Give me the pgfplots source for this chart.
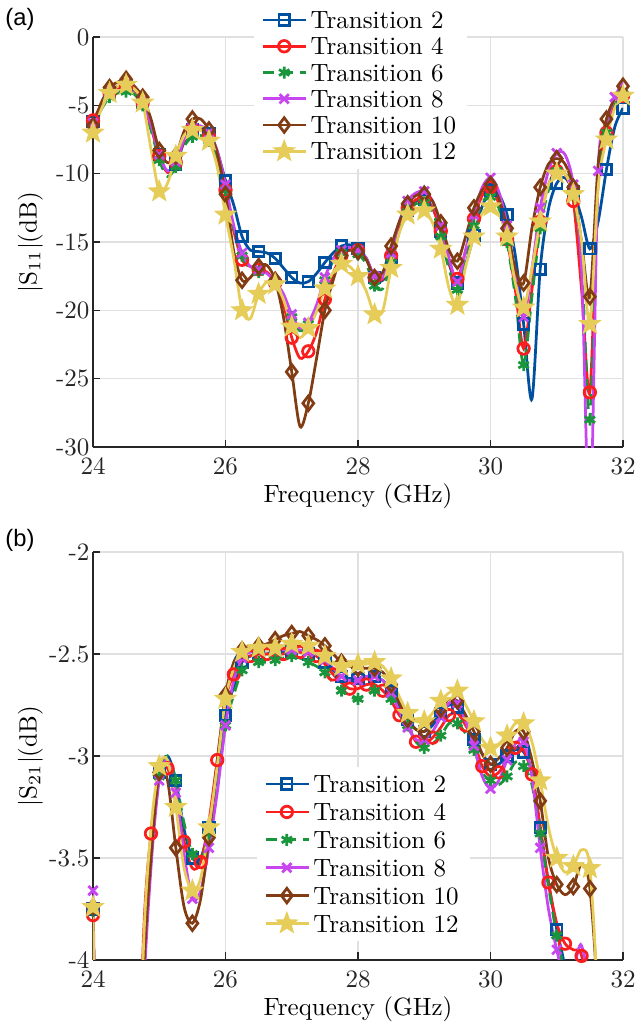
\documentclass[border=0pt]{standalone}
\usepackage{fontspec}
\newfontfamily\panelfont{Liberation Sans}
\usepackage{pgfplots}
\pgfplotsset{compat=1.18}
\usepackage{pgfplotstable}
\usetikzlibrary{plotmarks}

\definecolor{cTa}{RGB}{0,80,160}
\definecolor{cTb}{RGB}{250,30,30}
\definecolor{cTc}{RGB}{25,150,60}
\definecolor{cTd}{RGB}{200,70,240}
\definecolor{cTe}{RGB}{130,60,20}
\definecolor{cTf}{RGB}{230,205,90}
\definecolor{axgray}{RGB}{38,38,38}

% filled five-pointed star
\pgfdeclareplotmark{fstar}{%
  \pgfpathmoveto{\pgfpointpolar{90}{\pgfplotmarksize}}%
  \pgfpathlineto{\pgfpointpolar{126}{0.42\pgfplotmarksize}}%
  \pgfpathlineto{\pgfpointpolar{162}{\pgfplotmarksize}}%
  \pgfpathlineto{\pgfpointpolar{198}{0.42\pgfplotmarksize}}%
  \pgfpathlineto{\pgfpointpolar{234}{\pgfplotmarksize}}%
  \pgfpathlineto{\pgfpointpolar{270}{0.42\pgfplotmarksize}}%
  \pgfpathlineto{\pgfpointpolar{306}{\pgfplotmarksize}}%
  \pgfpathlineto{\pgfpointpolar{342}{0.42\pgfplotmarksize}}%
  \pgfpathlineto{\pgfpointpolar{18}{\pgfplotmarksize}}%
  \pgfpathlineto{\pgfpointpolar{54}{0.42\pgfplotmarksize}}%
  \pgfpathclose
  \pgfusepathqfillstroke}

% |S11| (dB)
\pgfplotstableread{
f      t2    t4    t6    t8    t10   t12
24.000 -6.2  -6.1  -6.6  -6.3  -6.5  -7.0
24.125 -5.0  -5.0  -5.3  -5.0  -4.8  -5.3
24.250 -4.1  -4.1  -4.4  -4.0  -3.7  -4.1
24.375 -3.7  -3.7  -4.1  -3.6  -3.3  -3.6
24.500 -3.6  -3.6  -4.0  -3.5  -3.1  -3.5
24.625 -3.9  -3.9  -4.2  -3.8  -3.6  -3.8
24.750 -4.8  -4.8  -5.0  -4.7  -4.4  -4.8
24.875 -6.5  -6.6  -6.8  -6.4  -6.0  -8.2
25.000 -8.6  -8.7  -9.0  -8.6  -8.3  -11.3
25.125 -9.9  -9.9  -10.2 -9.8  -9.2  -10.7
25.250 -9.3  -9.2  -9.5  -9.1  -8.7  -8.7
25.375 -7.7  -7.6  -8.0  -7.5  -6.9  -7.2
25.500 -6.8  -6.7  -7.3  -6.6  -6.0  -6.8
25.625 -6.6  -6.7  -7.2  -6.5  -6.0  -6.8
25.750 -7.1  -7.3  -7.6  -7.0  -6.8  -7.6
25.875 -8.4  -8.8  -8.9  -8.3  -8.5  -9.5
26.000 -10.5 -11.2 -11.2 -10.8 -11.5 -13.0
26.125 -12.3 -14.2 -14.0 -13.8 -15.7 -16.2
26.250 -14.6 -16.3 -16.0 -15.8 -17.8 -20.0
26.375 -15.6 -16.8 -17.0 -16.8 -17.6 -20.6
26.500 -15.7 -17.0 -17.2 -17.0 -16.8 -18.8
26.625 -15.8 -17.2 -17.4 -17.3 -16.7 -17.9
26.750 -16.2 -18.0 -18.0 -17.9 -17.8 -18.1
26.875 -16.9 -19.6 -19.0 -18.8 -20.5 -19.2
27.000 -17.6 -22.0 -20.5 -20.3 -24.5 -21.2
27.125 -18.0 -23.5 -21.5 -21.3 -28.5 -22.0
27.250 -17.9 -23.0 -21.0 -20.9 -26.8 -21.3
27.375 -17.3 -21.6 -19.8 -19.6 -23.5 -20.1
27.500 -16.5 -19.2 -17.8 -17.6 -20.0 -18.4
27.625 -15.8 -17.3 -16.4 -16.2 -17.8 -17.2
27.750 -15.3 -16.0 -15.8 -15.6 -16.0 -16.6
27.875 -15.2 -15.5 -15.6 -15.4 -15.6 -16.8
28.000 -15.5 -15.6 -15.9 -15.6 -15.7 -17.5
28.125 -16.2 -16.2 -16.6 -16.2 -16.3 -18.6
28.250 -17.6 -17.6 -18.2 -17.5 -17.6 -20.3
28.375 -17.8 -17.7 -18.4 -17.6 -17.2 -20.0
28.500 -16.3 -16.0 -16.5 -15.8 -15.3 -16.9
28.625 -14.2 -13.9 -14.2 -13.5 -13.5 -14.3
28.750 -12.7 -12.5 -12.8 -12.0 -12.2 -13.0
28.875 -12.0 -11.9 -12.2 -11.4 -11.6 -12.6
29.000 -11.9 -11.8 -12.1 -11.3 -11.5 -12.7
29.125 -12.5 -12.5 -12.8 -12.0 -12.0 -13.6
29.250 -14.2 -14.2 -14.6 -13.8 -13.6 -15.5
29.375 -16.6 -16.5 -17.0 -16.2 -15.6 -18.4
29.500 -18.0 -17.7 -18.5 -17.9 -16.4 -19.6
29.625 -16.6 -15.6 -16.3 -15.6 -14.6 -16.8
29.750 -14.5 -13.3 -13.8 -13.0 -12.5 -14.6
29.875 -12.4 -11.6 -12.1 -11.0 -11.2 -12.9
30.000 -11.2 -11.0 -11.7 -10.3 -10.8 -12.4
30.125 -11.5 -12.2 -12.5 -11.3 -11.8 -13.0
30.250 -13.0 -14.8 -15.0 -13.8 -14.0 -14.6
30.375 -16.0 -18.5 -19.0 -17.5 -17.0 -18.0
30.500 -21.0 -22.8 -24.0 -20.5 -18.0 -19.8
30.625 -26.5 -18.5 -19.0 -17.0 -14.0 -17.0
30.750 -17.0 -13.5 -14.0 -12.5 -11.0 -13.5
30.875 -12.6 -10.8 -11.2 -9.8  -9.3  -10.8
31.000 -10.7 -9.8  -9.8  -8.5  -8.9  -10.0
31.125 -10.3 -10.0 -9.8  -8.6  -9.3  -10.0
31.250 -11.3 -12.0 -11.5 -10.8 -11.0 -11.5
31.375 -13.2 -18.5 -16.5 -17.0 -15.0 -15.0
31.500 -15.5 -26.0 -28.0 -36.0 -19.0 -21.0
31.625 -13.5 -10.5 -10.3 -9.8  -9.3  -11.0
31.750 -9.7  -7.0  -7.0  -6.4  -6.0  -7.5
31.875 -6.6  -5.0  -5.0  -4.4  -4.5  -5.2
32.000 -5.2  -4.3  -4.2  -3.3  -3.6  -4.3
}\sonetable

% |S21| (dB)
\pgfplotstableread{
f      t2    t4    t6    t8    t10   t12
24.000 -3.75 -3.78 -3.76 -3.66 -3.74 -3.74
24.125 -6    -6    -6    -6    -6    -6
24.250 -6    -6    -6    -6    -6    -6
24.375 -6    -6    -6    -6    -6    -6
24.500 -6    -6    -6    -6    -6    -6
24.625 -6    -6    -6    -6    -6    -6
24.750 -4.15 -4.00 -4.20 -4.30 -4.20 -4.05
24.875 -3.42 -3.38 -3.48 -3.55 -3.50 -3.36
25.000 -3.08 -3.10 -3.10 -3.12 -3.08 -3.05
25.125 -3.00 -3.06 -3.00 -3.02 -3.12 -3.02
25.250 -3.12 -3.22 -3.12 -3.18 -3.45 -3.25
25.375 -3.36 -3.42 -3.33 -3.48 -3.74 -3.55
25.500 -3.50 -3.55 -3.48 -3.70 -3.82 -3.66
25.625 -3.50 -3.52 -3.52 -3.66 -3.70 -3.60
25.750 -3.35 -3.32 -3.38 -3.45 -3.40 -3.35
25.875 -3.08 -3.02 -3.15 -3.18 -3.03 -3.05
26.000 -2.80 -2.72 -2.85 -2.85 -2.70 -2.72
26.125 -2.66 -2.60 -2.70 -2.63 -2.54 -2.57
26.250 -2.54 -2.53 -2.58 -2.52 -2.48 -2.49
26.375 -2.51 -2.51 -2.55 -2.49 -2.46 -2.46
26.500 -2.50 -2.50 -2.54 -2.48 -2.46 -2.47
26.625 -2.50 -2.50 -2.54 -2.48 -2.45 -2.48
26.750 -2.49 -2.50 -2.53 -2.48 -2.43 -2.47
26.875 -2.49 -2.50 -2.52 -2.48 -2.41 -2.46
27.000 -2.49 -2.49 -2.51 -2.48 -2.40 -2.45
27.125 -2.49 -2.49 -2.52 -2.48 -2.39 -2.45
27.250 -2.50 -2.50 -2.54 -2.49 -2.41 -2.46
27.375 -2.51 -2.51 -2.56 -2.50 -2.43 -2.48
27.500 -2.54 -2.55 -2.59 -2.53 -2.46 -2.51
27.625 -2.58 -2.60 -2.64 -2.57 -2.50 -2.54
27.750 -2.61 -2.64 -2.68 -2.61 -2.54 -2.56
27.875 -2.62 -2.67 -2.71 -2.63 -2.56 -2.56
28.000 -2.62 -2.67 -2.72 -2.63 -2.57 -2.55
28.125 -2.61 -2.65 -2.70 -2.61 -2.57 -2.55
28.250 -2.61 -2.65 -2.68 -2.61 -2.57 -2.54
28.375 -2.63 -2.68 -2.69 -2.63 -2.59 -2.56
28.500 -2.68 -2.73 -2.72 -2.69 -2.65 -2.62
28.625 -2.76 -2.80 -2.77 -2.78 -2.74 -2.71
28.750 -2.82 -2.85 -2.85 -2.86 -2.82 -2.79
28.875 -2.87 -2.93 -2.93 -2.92 -2.87 -2.83
29.000 -2.88 -2.94 -2.96 -2.92 -2.88 -2.83
29.125 -2.85 -2.91 -2.94 -2.88 -2.83 -2.79
29.250 -2.79 -2.86 -2.90 -2.81 -2.77 -2.73
29.375 -2.75 -2.80 -2.84 -2.74 -2.72 -2.69
29.500 -2.76 -2.79 -2.84 -2.74 -2.73 -2.68
29.625 -2.84 -2.85 -2.89 -2.83 -2.80 -2.75
29.750 -2.92 -2.93 -2.97 -2.95 -2.88 -2.83
29.875 -2.99 -3.05 -3.08 -3.10 -2.99 -2.92
30.000 -3.04 -3.10 -3.12 -3.16 -3.04 -2.96
30.125 -3.04 -3.08 -3.14 -3.12 -3.01 -2.94
30.250 -3.00 -3.02 -3.10 -3.02 -2.96 -2.90
30.375 -2.97 -2.96 -3.03 -2.94 -2.88 -2.84
30.500 -2.98 -2.97 -3.05 -2.93 -2.88 -2.84
30.625 -3.08 -3.09 -3.14 -3.10 -3.02 -2.93
30.750 -3.35 -3.35 -3.38 -3.45 -3.22 -3.12
30.875 -3.62 -3.62 -3.64 -3.75 -3.50 -3.35
31.000 -3.85 -3.82 -3.88 -3.95 -3.63 -3.50
31.125 -4.05 -3.92 -4.10 -4.10 -3.68 -3.57
31.250 -4.50 -3.95 -4.60 -4.05 -3.64 -3.54
31.375 -6    -3.98 -6    -3.93 -3.53 -3.46
31.500 -6    -4.30 -6    -4.30 -3.65 -3.55
31.625 -6    -6    -6    -6    -4.30 -4.30
31.750 -6    -6    -6    -6    -6    -6
31.875 -6    -6    -6    -6    -6    -6
32.000 -6    -6    -6    -6    -6    -6
}\stwotable

\pgfplotsset{
  sparam/.style={
    width=212pt, scale only axis,
    xmin=24, xmax=32, xtick={24,26,...,32},
    axis x line*=bottom, axis y line*=left,
    grid=major, grid style={black!12, line width=0.5pt},
    tick align=inside, major tick length=3pt,
    axis line style={axgray, line width=0.5pt},
    tick style={axgray, line width=0.5pt},
    ticklabel style={font=\normalsize, text=axgray},
    yticklabel style={inner xsep=1.2pt, inner ysep=0pt},
    xticklabel style={inner ysep=0.5pt, yshift=-3.7pt},
    /pgf/number format/assume math mode=true,
    xlabel={Frequency (GHz)},
    label style={font=\normalsize, text=axgray},
    every axis x label/.style={at={(axis description cs:0.5,0)},
      anchor=center, yshift=-19.5pt},
    every axis y label/.style={at={(axis description cs:-0.118,0.5)},
      rotate=90, anchor=center},
    legend cell align=left,
    legend style={draw=none, fill=white, font=\normalsize, anchor=north,
      row sep=0.6pt, inner xsep=3pt, inner ysep=2pt,
      nodes={inner sep=1.5pt, text height=6.9pt, text depth=0pt}},
    every axis plot/.append style={line width=1.1pt, smooth, mark repeat=2,
      mark options={solid}},
  },
  sTa/.style={cTa, mark=square, mark size=2.1pt},
  sTb/.style={cTb, mark=o, mark size=2.3pt},
  sTc/.style={cTc, dash pattern=on 4.5pt off 3pt, mark=asterisk, mark size=2.4pt},
  sTd/.style={cTd, mark=x, mark size=2.6pt},
  sTe/.style={cTe, mark=diamond, mark size=2.9pt},
  sTf/.style={cTf, mark=fstar, mark size=3.4pt, mark options={solid, fill=cTf}},
}

\begin{document}
\begin{tikzpicture}
\begin{axis}[sparam, name=top, height=164pt,
  ymin=-30, ymax=0, ytick={-30,-25,...,0},
  ylabel={$|\mathrm{S}_{11}|$(dB)},
  legend style={at={(0.505,1.085)}}]
\addplot[sTa] table[x=f, y=t2] {\sonetable};
\addlegendentry{Transition 2}
\addplot[sTb] table[x=f, y=t4] {\sonetable};
\addlegendentry{Transition 4}
\addplot[sTc] table[x=f, y=t6] {\sonetable};
\addlegendentry{Transition 6}
\addplot[sTd] table[x=f, y=t8] {\sonetable};
\addlegendentry{Transition 8}
\addplot[sTe] table[x=f, y=t10] {\sonetable};
\addlegendentry{Transition 10}
\addplot[sTf] table[x=f, y=t12] {\sonetable};
\addlegendentry{Transition 12}
\end{axis}

\begin{axis}[sparam, name=bottom, height=163.2pt,
  at={(0pt,-42pt)}, anchor=north west,
  ymin=-4, ymax=-2, ytick={-4,-3.5,-3,-2.5,-2},
  ylabel={$|\mathrm{S}_{21}|$(dB)},
  legend style={at={(0.51,0.475)}, row sep=1.25pt}]
\addplot[sTa] table[x=f, y=t2] {\stwotable};
\addlegendentry{Transition 2}
\addplot[sTb] table[x=f, y=t4] {\stwotable};
\addlegendentry{Transition 4}
\addplot[sTc] table[x=f, y=t6] {\stwotable};
\addlegendentry{Transition 6}
\addplot[sTd] table[x=f, y=t8] {\stwotable};
\addlegendentry{Transition 8}
\addplot[sTe] table[x=f, y=t10] {\stwotable};
\addlegendentry{Transition 10}
\addplot[sTf] table[x=f, y=t12] {\stwotable};
\addlegendentry{Transition 12}
\end{axis}

\node[anchor=west, font=\panelfont\fontsize{9.5}{11}\selectfont, inner sep=0pt]
  at (-35.2pt,171pt) {(a)};
\node[anchor=west, font=\panelfont\fontsize{9.5}{11}\selectfont, inner sep=0pt]
  at (-35.2pt,-37.5pt) {(b)};
% page size as in the reference
\pgfresetboundingbox
\path[use as bounding box] (-37.2pt,178.8pt) rectangle (217.2pt,-231.2pt);
\end{tikzpicture}
\end{document}
